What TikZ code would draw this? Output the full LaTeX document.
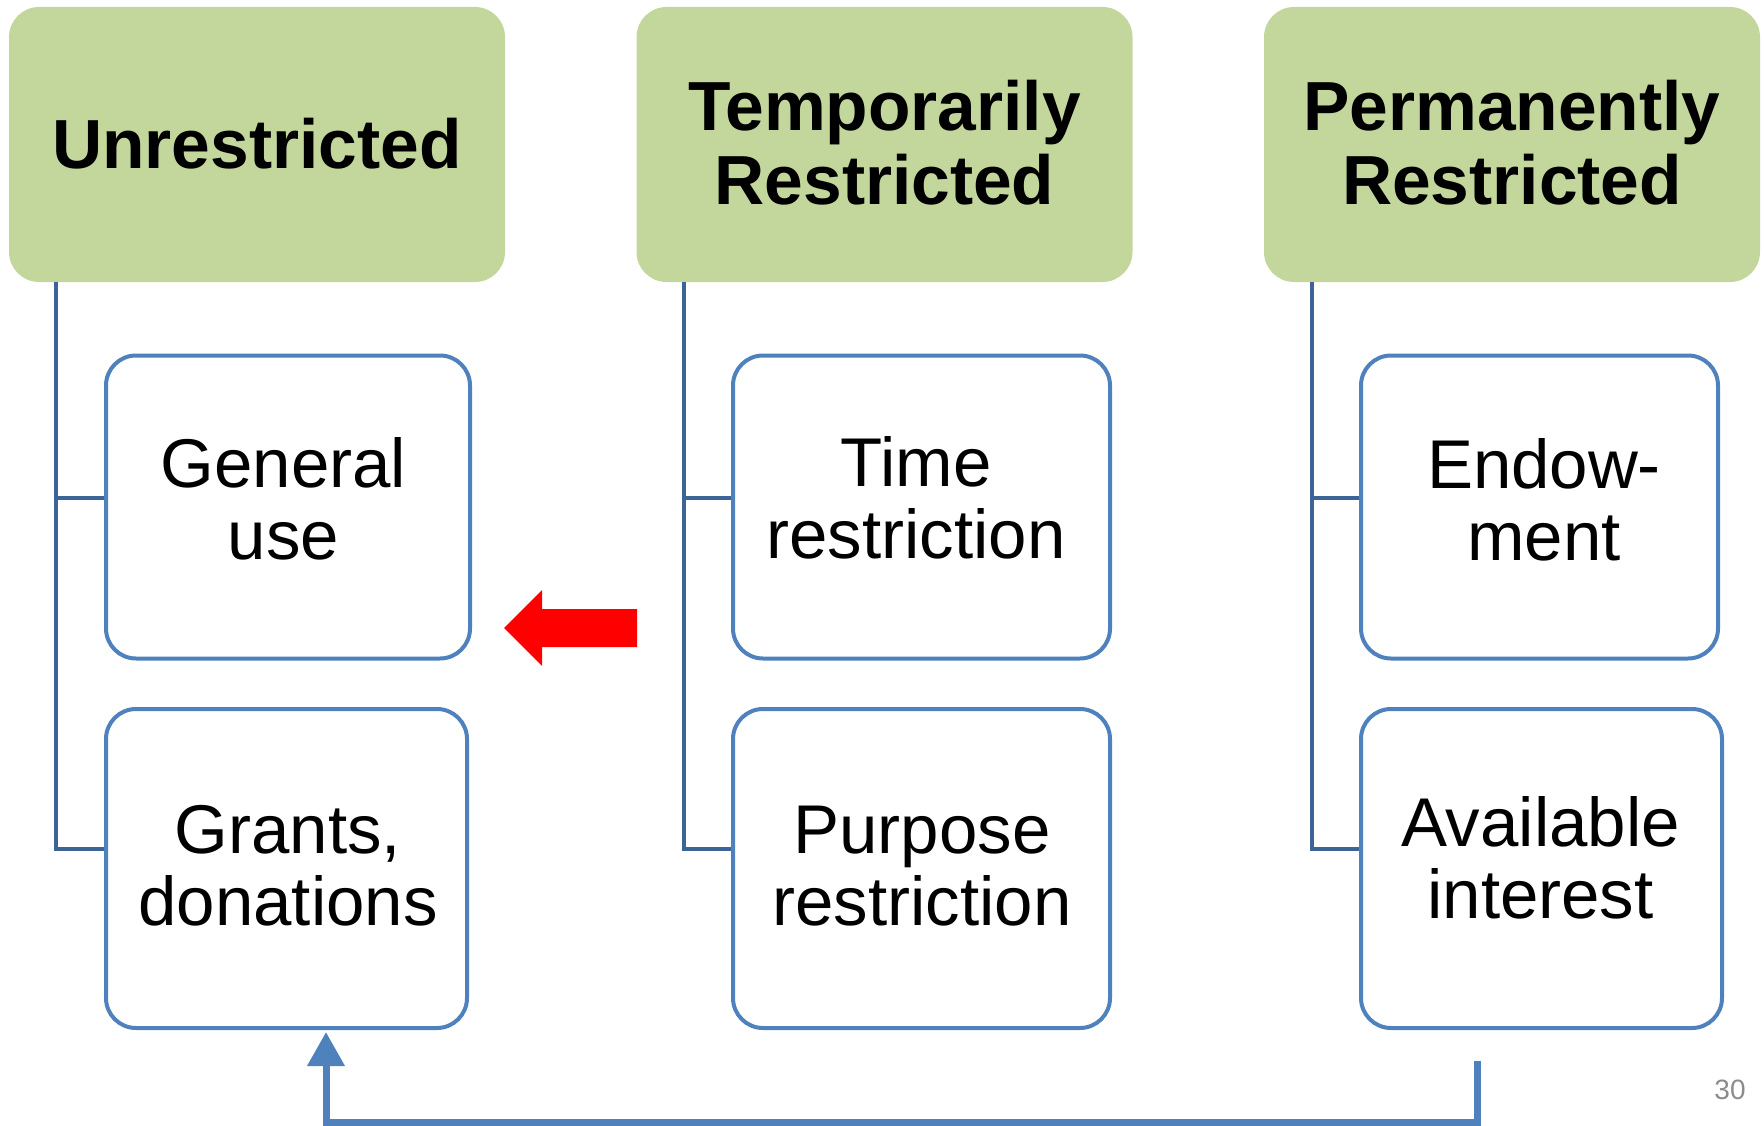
\documentclass[tikz,border=0pt]{standalone}
\usepackage{fontspec}
\setmainfont{Liberation Sans}
\usetikzlibrary{arrows.meta}
\definecolor{hdrgreen}{RGB}{195,214,155}
\definecolor{boxblue}{RGB}{79,129,189}
\definecolor{treeblue}{RGB}{60,100,150}
\definecolor{pagegray}{RGB}{140,140,140}
\begin{document}
\begin{tikzpicture}[x=1pt,y=-1pt,
  hdr/.style={fill=hdrgreen, rounded corners=30pt, minimum width=496pt, minimum height=275pt, inner sep=0pt},
  hdrtext/.style={font=\bfseries\fontsize{69.5}{74}\selectfont, align=center, inner sep=0pt},
  child/.style={draw=boxblue, line width=4pt, fill=white, rounded corners=30pt, inner sep=0pt},
  childtext/.style={font=\fontsize{69}{72}\selectfont, align=center, inner sep=0pt},
  tree/.style={draw=treeblue, line width=4.5pt},
  backarrow/.style={draw=boxblue, line width=7pt, -{Triangle[length=34pt,width=36pt]}},
  pagenum/.style={font=\fontsize{28}{30}\selectfont, text=pagegray, inner sep=0pt}]
\useasboundingbox (0,0) rectangle (1764,1126);

% headers
\node[hdr] (hdr1) at (257,144.5) {};
\node[hdr] (hdr2) at (884.5,144.5) {};
\node[hdr] (hdr3) at (1512,144.5) {};
\node[hdrtext] (h1t) at (257,144) {Unrestricted};
\node[hdrtext] (h2t) at (884.5,143) {Temporarily\\Restricted};
\node[hdrtext] (h3t) at (1512,143) {Permanently\\Restricted};

% child boxes
\node[child, minimum width=364pt, minimum height=303pt] (gen) at (288,507) {};
\node[child, minimum width=361pt, minimum height=319pt] (grants) at (286.5,868.5) {};
\node[child, minimum width=377pt, minimum height=303pt] (time) at (921.5,507) {};
\node[child, minimum width=377pt, minimum height=319pt] (purpose) at (921.5,868.5) {};
\node[child, minimum width=357pt, minimum height=303pt] (endow) at (1539.5,507) {};
\node[child, minimum width=361pt, minimum height=319pt] (avail) at (1541.5,868.5) {};

\node[childtext] (gent) at (283.5,499) {General\\use};
\node[childtext] (grantst) at (288,866) {Grants,\\donations};
\node[childtext] (timet) at (916,498) {Time\\restriction};
\node[childtext] (purposet) at (922,866) {Purpose\\restriction};
\node[childtext] (endowt) at (1544,500) {Endow-\\ment};
\node[childtext] (availt) at (1540.5,858) {Available\\interest};

% tree connectors
\coordinate (c1a) at (56,498);
\coordinate (c1b) at (56,849);
\coordinate (c2a) at (684,498);
\coordinate (c2b) at (684,849);
\coordinate (c3a) at (1312,498);
\coordinate (c3b) at (1312,849);
\draw[tree] (hdr1.south -| c1a) -- (c1b) -- (c1b -| grants.west);
\draw[tree] (c1a) -- (c1a -| gen.west);
\draw[tree] (hdr2.south -| c2a) -- (c2b) -- (c2b -| purpose.west);
\draw[tree] (c2a) -- (c2a -| time.west);
\draw[tree] (hdr3.south -| c3a) -- (c3b) -- (c3b -| avail.west);
\draw[tree] (c3a) -- (c3a -| endow.west);

% red block arrow
\fill[red] (504,628) -- (542,590) -- (542,609) -- (637,609) -- (637,647) -- (542,647) -- (542,666) -- cycle;

% bottom return arrow
\coordinate (bstart) at (1477,1061);
\coordinate (bcorner) at (326,1122);
\draw[backarrow] (bstart) |- (bcorner) -- ([yshift=-2pt]bcorner |- grants.south);

% page number
\node[pagenum] (pnum) at (1730,1090) {30};
\end{tikzpicture}
\end{document}
